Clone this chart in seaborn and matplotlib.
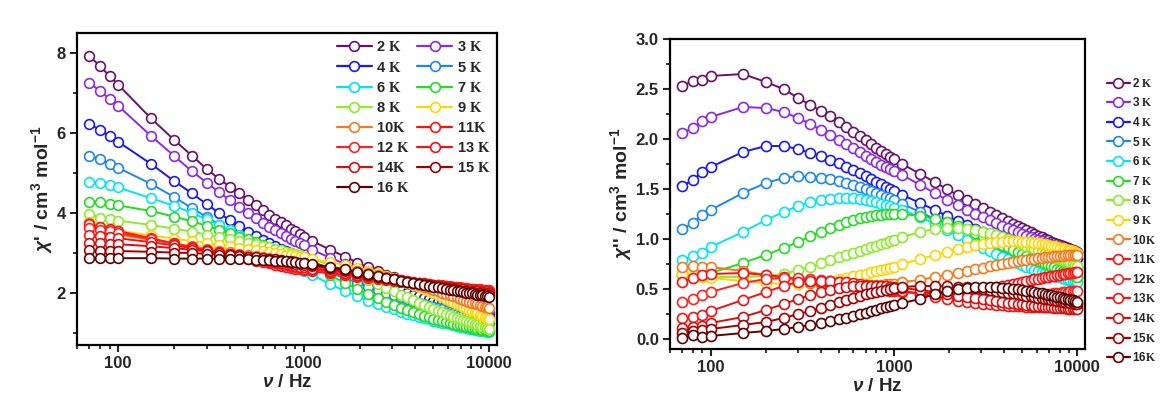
import matplotlib
matplotlib.use("Agg")
import matplotlib.pyplot as plt
from matplotlib.lines import Line2D
from matplotlib.ticker import (FixedLocator, FuncFormatter, LogLocator,
                               MultipleLocator, NullFormatter)
import pandas as pd
import seaborn as sns

# AC frequencies (Hz)
freq = [70, 80, 90, 100, 150, 200, 250, 300, 350, 400, 450, 500, 550, 600, 650, 700, 750, 800, 850, 900, 950, 1000,
        1111, 1389, 1667, 1944, 2222, 2500, 2778, 3056, 3333, 3611, 3889, 4167, 4444, 4722, 5000,
        5278, 5556, 5833, 6111, 6389, 6667, 6944, 7222, 7500, 7778, 8056, 8333, 8611, 8889, 9167, 9444, 9722, 10000]

temps = [2, 3, 4, 5, 6, 7, 8, 9, 10, 11, 12, 13, 14, 15, 16]

# in-phase susceptibility chi' (cm3 mol-1)
c1_2 = [7.92, 7.67, 7.42, 7.21, 6.37, 5.83, 5.43, 5.10, 4.85, 4.66, 4.49, 4.33, 4.19, 4.07, 3.96, 3.86, 3.77, 3.69, 3.61, 3.54, 3.47, 3.41,
        3.30, 3.08, 2.91, 2.76, 2.64, 2.54, 2.46, 2.39, 2.32, 2.26, 2.20, 2.15, 2.10, 2.05, 2.01,
        1.97, 1.93, 1.90, 1.86, 1.83, 1.80, 1.77, 1.74, 1.72, 1.69, 1.67, 1.64, 1.62, 1.60, 1.57, 1.55, 1.53, 1.51]
c1_3 = [7.26, 7.04, 6.85, 6.68, 5.93, 5.43, 5.04, 4.76, 4.52, 4.32, 4.15, 4.00, 3.87, 3.76, 3.66, 3.57, 3.49, 3.42, 3.35, 3.29, 3.24, 3.19,
        3.08, 2.88, 2.73, 2.61, 2.51, 2.43, 2.36, 2.30, 2.24, 2.18, 2.13, 2.08, 2.04, 2.00, 1.96,
        1.92, 1.89, 1.85, 1.82, 1.79, 1.76, 1.73, 1.70, 1.68, 1.65, 1.63, 1.61, 1.58, 1.56, 1.54, 1.52, 1.50, 1.48]
c1_4 = [6.23, 6.07, 5.92, 5.78, 5.23, 4.80, 4.49, 4.22, 4.00, 3.82, 3.67, 3.53, 3.42, 3.32, 3.24, 3.17, 3.10, 3.04, 2.99, 2.94, 2.90, 2.86,
        2.77, 2.62, 2.50, 2.40, 2.31, 2.24, 2.17, 2.11, 2.06, 2.01, 1.96, 1.92, 1.88, 1.84, 1.81,
        1.78, 1.75, 1.72, 1.69, 1.66, 1.64, 1.61, 1.59, 1.57, 1.55, 1.53, 1.51, 1.49, 1.47, 1.46, 1.44, 1.42, 1.41]
c1_5 = [5.43, 5.34, 5.23, 5.13, 4.73, 4.40, 4.12, 3.90, 3.71, 3.55, 3.42, 3.31, 3.22, 3.14, 3.07, 3.01, 2.95, 2.90, 2.86, 2.82, 2.78, 2.74,
        2.66, 2.50, 2.37, 2.26, 2.16, 2.08, 2.01, 1.95, 1.89, 1.84, 1.80, 1.76, 1.72, 1.68, 1.65,
        1.62, 1.59, 1.56, 1.53, 1.51, 1.48, 1.46, 1.44, 1.42, 1.40, 1.38, 1.36, 1.34, 1.33, 1.31, 1.29, 1.28, 1.26]
c1_6 = [4.78, 4.75, 4.69, 4.64, 4.37, 4.18, 4.00, 3.84, 3.70, 3.57, 3.45, 3.34, 3.24, 3.14, 3.05, 2.97, 2.89, 2.82, 2.75, 2.68, 2.62, 2.56,
        2.45, 2.22, 2.05, 1.92, 1.81, 1.72, 1.65, 1.59, 1.53, 1.48, 1.44, 1.40, 1.37, 1.34, 1.31,
        1.28, 1.26, 1.24, 1.22, 1.20, 1.18, 1.16, 1.14, 1.13, 1.11, 1.10, 1.08, 1.07, 1.06, 1.05, 1.04, 1.03, 1.02]
c1_7 = [4.28, 4.27, 4.23, 4.19, 4.05, 3.91, 3.79, 3.68, 3.58, 3.49, 3.41, 3.34, 3.27, 3.20, 3.14, 3.08, 3.03, 2.98, 2.93, 2.88, 2.84, 2.78,
        2.67, 2.44, 2.25, 2.10, 1.97, 1.87, 1.78, 1.70, 1.63, 1.57, 1.52, 1.47, 1.43, 1.39, 1.36,
        1.33, 1.30, 1.27, 1.25, 1.23, 1.21, 1.19, 1.17, 1.16, 1.14, 1.13, 1.11, 1.10, 1.09, 1.08, 1.07, 1.06, 1.05]
c1_8 = [3.98, 3.88, 3.84, 3.81, 3.70, 3.61, 3.53, 3.46, 3.40, 3.35, 3.30, 3.26, 3.22, 3.18, 3.14, 3.10, 3.07, 3.03, 3.00, 2.97, 2.94, 2.91,
        2.85, 2.70, 2.56, 2.44, 2.33, 2.22, 2.13, 2.04, 1.96, 1.89, 1.82, 1.76, 1.70, 1.65, 1.60,
        1.56, 1.52, 1.48, 1.44, 1.41, 1.38, 1.35, 1.32, 1.29, 1.27, 1.24, 1.22, 1.20, 1.18, 1.16, 1.14, 1.12, 1.10]
c1_9 = [3.78, 3.66, 3.60, 3.56, 3.44, 3.36, 3.30, 3.25, 3.20, 3.17, 3.13, 3.10, 3.07, 3.05, 3.03, 3.00, 2.98, 2.96, 2.94, 2.92, 2.91, 2.89,
        2.85, 2.77, 2.70, 2.63, 2.56, 2.49, 2.43, 2.37, 2.31, 2.25, 2.19, 2.14, 2.09, 2.04, 1.99,
        1.94, 1.90, 1.85, 1.81, 1.77, 1.73, 1.69, 1.65, 1.62, 1.58, 1.55, 1.52, 1.49, 1.46, 1.43, 1.40, 1.37, 1.34]
c1_10 = [3.76, 3.62, 3.52, 3.46, 3.33, 3.24, 3.17, 3.11, 3.06, 3.02, 2.98, 2.95, 2.92, 2.89, 2.87, 2.85, 2.83, 2.81, 2.79, 2.77, 2.76, 2.74,
         2.71, 2.65, 2.59, 2.54, 2.49, 2.44, 2.40, 2.35, 2.31, 2.27, 2.23, 2.19, 2.15, 2.12, 2.08,
         2.05, 2.01, 1.98, 1.95, 1.92, 1.89, 1.86, 1.83, 1.81, 1.78, 1.76, 1.74, 1.72, 1.70, 1.68, 1.66, 1.64, 1.63]
c1_11 = [3.72, 3.66, 3.60, 3.55, 3.37, 3.24, 3.14, 3.06, 3.00, 2.95, 2.90, 2.85, 2.81, 2.78, 2.74, 2.71, 2.68, 2.66, 2.63, 2.61, 2.59, 2.57,
         2.54, 2.49, 2.45, 2.41, 2.38, 2.35, 2.33, 2.31, 2.29, 2.27, 2.25, 2.24, 2.22, 2.21, 2.20,
         2.19, 2.18, 2.17, 2.16, 2.15, 2.14, 2.13, 2.13, 2.12, 2.11, 2.10, 2.10, 2.09, 2.09, 2.08, 2.08, 2.07, 2.07]
c1_12 = [3.62, 3.58, 3.54, 3.50, 3.35, 3.23, 3.14, 3.07, 3.01, 2.96, 2.92, 2.88, 2.84, 2.81, 2.78, 2.75, 2.72, 2.69, 2.67, 2.65, 2.63, 2.61,
         2.58, 2.52, 2.47, 2.43, 2.40, 2.37, 2.35, 2.33, 2.31, 2.29, 2.27, 2.25, 2.24, 2.22, 2.21,
         2.20, 2.19, 2.18, 2.17, 2.16, 2.15, 2.14, 2.13, 2.12, 2.11, 2.10, 2.09, 2.08, 2.08, 2.07, 2.06, 2.06, 2.05]
c1_13 = [3.45, 3.42, 3.40, 3.37, 3.27, 3.19, 3.12, 3.07, 3.02, 2.98, 2.94, 2.90, 2.87, 2.84, 2.81, 2.78, 2.75, 2.72, 2.70, 2.68, 2.66, 2.64,
         2.61, 2.56, 2.51, 2.46, 2.42, 2.39, 2.36, 2.34, 2.32, 2.30, 2.28, 2.26, 2.24, 2.22, 2.20,
         2.19, 2.17, 2.16, 2.15, 2.14, 2.13, 2.12, 2.11, 2.10, 2.09, 2.08, 2.07, 2.06, 2.06, 2.05, 2.04, 2.04, 2.03]
c1_14 = [3.26, 3.25, 3.23, 3.22, 3.17, 3.12, 3.08, 3.04, 3.00, 2.97, 2.94, 2.91, 2.88, 2.86, 2.83, 2.81, 2.79, 2.77, 2.75, 2.73, 2.72, 2.70,
         2.67, 2.60, 2.54, 2.49, 2.44, 2.40, 2.37, 2.34, 2.31, 2.28, 2.26, 2.24, 2.22, 2.20, 2.19,
         2.17, 2.16, 2.14, 2.13, 2.12, 2.11, 2.10, 2.09, 2.08, 2.07, 2.06, 2.05, 2.04, 2.03, 2.02, 2.01, 2.01, 2.00]
c1_15 = [3.07, 3.06, 3.06, 3.05, 3.03, 3.01, 3.00, 2.98, 2.96, 2.94, 2.93, 2.91, 2.89, 2.88, 2.86, 2.85, 2.83, 2.81, 2.79, 2.78, 2.76, 2.74,
         2.71, 2.63, 2.57, 2.51, 2.46, 2.41, 2.37, 2.34, 2.31, 2.28, 2.25, 2.23, 2.21, 2.19, 2.17,
         2.15, 2.13, 2.12, 2.10, 2.09, 2.07, 2.06, 2.05, 2.04, 2.03, 2.02, 2.01, 2.00, 1.99, 1.98, 1.97, 1.97, 1.96]
c1_16 = [2.87, 2.87, 2.87, 2.87, 2.87, 2.86, 2.86, 2.86, 2.85, 2.85, 2.84, 2.84, 2.83, 2.83, 2.82, 2.81, 2.80, 2.79, 2.78, 2.77, 2.76, 2.75,
         2.72, 2.65, 2.59, 2.53, 2.48, 2.43, 2.38, 2.34, 2.31, 2.28, 2.25, 2.22, 2.20, 2.18, 2.16,
         2.14, 2.12, 2.10, 2.08, 2.07, 2.05, 2.04, 2.02, 2.01, 2.00, 1.99, 1.98, 1.96, 1.95, 1.94, 1.93, 1.92, 1.91]

# out-of-phase susceptibility chi'' (cm3 mol-1)
c2_2 = [2.53, 2.58, 2.59, 2.63, 2.65, 2.57, 2.50, 2.41, 2.34, 2.28, 2.23, 2.17, 2.12, 2.07, 2.03, 1.99, 1.95, 1.91, 1.88, 1.85, 1.82, 1.80,
        1.75, 1.65, 1.57, 1.50, 1.44, 1.39, 1.35, 1.31, 1.27, 1.24, 1.21, 1.18, 1.15, 1.13, 1.11,
        1.09, 1.07, 1.05, 1.03, 1.02, 1.00, 0.99, 0.97, 0.96, 0.95, 0.94, 0.93, 0.92, 0.91, 0.90, 0.89, 0.88, 0.87]
c2_3 = [2.06, 2.11, 2.18, 2.22, 2.32, 2.31, 2.27, 2.21, 2.15, 2.09, 2.04, 1.99, 1.95, 1.91, 1.87, 1.83, 1.80, 1.77, 1.74, 1.72, 1.70, 1.68,
        1.64, 1.54, 1.46, 1.39, 1.34, 1.29, 1.25, 1.22, 1.19, 1.16, 1.13, 1.11, 1.09, 1.07, 1.05,
        1.03, 1.02, 1.00, 0.99, 0.98, 0.96, 0.95, 0.94, 0.93, 0.92, 0.92, 0.91, 0.90, 0.89, 0.88, 0.88, 0.87, 0.86]
c2_4 = [1.53, 1.59, 1.67, 1.72, 1.87, 1.93, 1.93, 1.90, 1.86, 1.83, 1.79, 1.76, 1.72, 1.69, 1.66, 1.63, 1.60, 1.57, 1.55, 1.52, 1.50, 1.48,
        1.44, 1.36, 1.29, 1.23, 1.18, 1.14, 1.10, 1.07, 1.04, 1.02, 1.00, 0.98, 0.96, 0.95, 0.93,
        0.92, 0.91, 0.90, 0.89, 0.88, 0.87, 0.87, 0.86, 0.85, 0.85, 0.84, 0.84, 0.83, 0.83, 0.82, 0.82, 0.81, 0.81]
c2_5 = [1.10, 1.16, 1.24, 1.29, 1.46, 1.56, 1.61, 1.63, 1.62, 1.61, 1.60, 1.58, 1.56, 1.54, 1.52, 1.50, 1.48, 1.46, 1.44, 1.42, 1.41, 1.39,
        1.35, 1.27, 1.20, 1.15, 1.10, 1.06, 1.03, 1.00, 0.97, 0.95, 0.93, 0.91, 0.89, 0.87, 0.86,
        0.84, 0.83, 0.82, 0.81, 0.80, 0.79, 0.78, 0.77, 0.77, 0.76, 0.75, 0.75, 0.74, 0.74, 0.73, 0.73, 0.72, 0.72]
c2_6 = [0.79, 0.83, 0.86, 0.92, 1.07, 1.19, 1.27, 1.33, 1.37, 1.39, 1.40, 1.41, 1.41, 1.41, 1.40, 1.39, 1.38, 1.37, 1.35, 1.34, 1.33, 1.31,
        1.29, 1.22, 1.15, 1.09, 1.04, 0.99, 0.95, 0.91, 0.88, 0.85, 0.82, 0.80, 0.78, 0.76, 0.74,
        0.72, 0.71, 0.69, 0.68, 0.67, 0.66, 0.65, 0.64, 0.63, 0.62, 0.62, 0.61, 0.60, 0.59, 0.59, 0.58, 0.58, 0.57]
c2_7 = [0.64, 0.63, 0.64, 0.66, 0.76, 0.84, 0.91, 0.97, 1.03, 1.07, 1.11, 1.14, 1.17, 1.19, 1.21, 1.22, 1.23, 1.24, 1.24, 1.25, 1.25, 1.25,
        1.25, 1.23, 1.20, 1.17, 1.13, 1.10, 1.06, 1.03, 1.00, 0.97, 0.94, 0.92, 0.89, 0.87, 0.85,
        0.83, 0.81, 0.80, 0.78, 0.77, 0.75, 0.74, 0.73, 0.72, 0.70, 0.69, 0.68, 0.67, 0.66, 0.65, 0.64, 0.63, 0.62]
c2_8 = [0.66, 0.63, 0.62, 0.62, 0.62, 0.63, 0.65, 0.69, 0.72, 0.76, 0.79, 0.82, 0.84, 0.86, 0.88, 0.90, 0.92, 0.93, 0.95, 0.96, 0.98, 0.99,
        1.02, 1.07, 1.10, 1.11, 1.11, 1.10, 1.09, 1.07, 1.06, 1.04, 1.02, 1.00, 0.98, 0.97, 0.95,
        0.93, 0.92, 0.90, 0.89, 0.87, 0.86, 0.85, 0.83, 0.82, 0.81, 0.80, 0.79, 0.78, 0.77, 0.76, 0.75, 0.74, 0.73]
c2_9 = [0.65, 0.64, 0.62, 0.61, 0.58, 0.56, 0.55, 0.55, 0.56, 0.57, 0.58, 0.60, 0.61, 0.63, 0.64, 0.65, 0.67, 0.68, 0.69, 0.70, 0.71, 0.72,
        0.75, 0.80, 0.84, 0.87, 0.90, 0.92, 0.94, 0.95, 0.96, 0.97, 0.97, 0.98, 0.98, 0.98, 0.97,
        0.97, 0.97, 0.96, 0.96, 0.95, 0.95, 0.94, 0.93, 0.93, 0.92, 0.91, 0.91, 0.90, 0.89, 0.89, 0.88, 0.87, 0.86]
c2_10 = [0.72, 0.73, 0.72, 0.72, 0.68, 0.64, 0.61, 0.58, 0.56, 0.55, 0.54, 0.53, 0.53, 0.53, 0.53, 0.53, 0.54, 0.54, 0.54, 0.55, 0.55, 0.55,
         0.57, 0.59, 0.62, 0.64, 0.66, 0.68, 0.70, 0.71, 0.73, 0.74, 0.75, 0.76, 0.77, 0.78, 0.79,
         0.79, 0.80, 0.80, 0.81, 0.81, 0.82, 0.82, 0.82, 0.83, 0.83, 0.83, 0.83, 0.84, 0.84, 0.84, 0.84, 0.84, 0.84]
c2_11 = [0.57, 0.61, 0.64, 0.65, 0.66, 0.64, 0.62, 0.60, 0.58, 0.57, 0.56, 0.55, 0.54, 0.53, 0.52, 0.51, 0.51, 0.50, 0.49, 0.49, 0.48, 0.48,
         0.47, 0.46, 0.46, 0.46, 0.47, 0.48, 0.49, 0.50, 0.51, 0.52, 0.53, 0.54, 0.55, 0.56, 0.57,
         0.58, 0.59, 0.60, 0.60, 0.61, 0.62, 0.62, 0.63, 0.63, 0.64, 0.64, 0.65, 0.65, 0.66, 0.66, 0.66, 0.67, 0.67]
c2_12 = [0.37, 0.40, 0.44, 0.47, 0.56, 0.60, 0.61, 0.61, 0.60, 0.59, 0.58, 0.57, 0.56, 0.55, 0.54, 0.53, 0.52, 0.52, 0.51, 0.50, 0.50, 0.49,
         0.48, 0.45, 0.43, 0.41, 0.40, 0.40, 0.39, 0.39, 0.39, 0.39, 0.39, 0.40, 0.40, 0.41, 0.41,
         0.42, 0.42, 0.43, 0.43, 0.44, 0.44, 0.45, 0.45, 0.46, 0.46, 0.46, 0.47, 0.47, 0.47, 0.48, 0.48, 0.48, 0.48]
c2_13 = [0.21, 0.22, 0.24, 0.28, 0.39, 0.47, 0.53, 0.57, 0.58, 0.58, 0.58, 0.57, 0.57, 0.56, 0.55, 0.54, 0.53, 0.53, 0.52, 0.51, 0.50, 0.50,
         0.48, 0.45, 0.42, 0.40, 0.38, 0.37, 0.36, 0.35, 0.35, 0.34, 0.34, 0.33, 0.33, 0.33, 0.33,
         0.32, 0.32, 0.32, 0.32, 0.32, 0.32, 0.32, 0.32, 0.32, 0.32, 0.32, 0.32, 0.32, 0.32, 0.32, 0.32, 0.32, 0.32]
c2_14 = [0.11, 0.12, 0.13, 0.16, 0.22, 0.29, 0.35, 0.40, 0.44, 0.47, 0.49, 0.51, 0.52, 0.53, 0.53, 0.53, 0.53, 0.53, 0.53, 0.53, 0.52, 0.52,
         0.51, 0.49, 0.47, 0.45, 0.43, 0.42, 0.41, 0.40, 0.39, 0.38, 0.37, 0.36, 0.36, 0.35, 0.35,
         0.34, 0.34, 0.33, 0.33, 0.33, 0.32, 0.32, 0.32, 0.31, 0.31, 0.31, 0.31, 0.31, 0.30, 0.30, 0.30, 0.30, 0.30]
c2_15 = [0.06, 0.08, 0.09, 0.10, 0.14, 0.17, 0.21, 0.25, 0.28, 0.31, 0.34, 0.37, 0.39, 0.41, 0.43, 0.45, 0.46, 0.47, 0.48, 0.49, 0.50, 0.51,
         0.52, 0.53, 0.53, 0.53, 0.52, 0.52, 0.51, 0.50, 0.49, 0.48, 0.47, 0.46, 0.46, 0.45, 0.44,
         0.43, 0.43, 0.42, 0.41, 0.41, 0.40, 0.40, 0.39, 0.39, 0.38, 0.38, 0.37, 0.37, 0.37, 0.36, 0.36, 0.35, 0.35]
c2_16 = [0.01, 0.04, 0.02, 0.03, 0.06, 0.08, 0.10, 0.12, 0.14, 0.16, 0.18, 0.20, 0.21, 0.23, 0.25, 0.26, 0.28, 0.29, 0.31, 0.32, 0.33, 0.34,
         0.36, 0.40, 0.45, 0.48, 0.50, 0.51, 0.52, 0.52, 0.52, 0.52, 0.51, 0.51, 0.50, 0.50, 0.49,
         0.48, 0.48, 0.47, 0.46, 0.46, 0.45, 0.44, 0.44, 0.43, 0.42, 0.42, 0.41, 0.40, 0.40, 0.39, 0.39, 0.38, 0.37]

colors = ["#6a0f6e", "#8a2be2", "#1a1aee", "#1e88e8", "#00e6ee", "#22dd22", "#8cec2a", "#ffd500",
          "#f47a1e", "#ff1010", "#ff2222", "#f01414", "#d41010", "#a00000", "#5c0000"]

chi_re = [c1_2, c1_3, c1_4, c1_5, c1_6, c1_7, c1_8, c1_9, c1_10, c1_11, c1_12, c1_13, c1_14, c1_15, c1_16]
chi_im = [c2_2, c2_3, c2_4, c2_5, c2_6, c2_7, c2_8, c2_9, c2_10, c2_11, c2_12, c2_13, c2_14, c2_15, c2_16]

frames = []
for T, re_vals, im_vals in zip(temps, chi_re, chi_im):
    assert len(re_vals) == len(freq) and len(im_vals) == len(freq)
    frames.append(pd.DataFrame({"freq": freq, "T": T, "chi_re": re_vals, "chi_im": im_vals}))
df = pd.concat(frames, ignore_index=True)

sns.set_style("ticks")
plt.rcParams.update({
    "font.family": ["Liberation Sans", "DejaVu Sans"],
    "font.weight": "bold",
    "mathtext.fontset": "custom",
    "mathtext.rm": "Liberation Sans:bold",
    "mathtext.it": "Liberation Sans:italic:bold",
    "mathtext.bf": "Liberation Serif:bold",
    "axes.linewidth": 1.6,
    "axes.edgecolor": "black",
})

fig = plt.figure(figsize=(11.7, 4.0), dpi=100)
ax1 = fig.add_axes([0.0658, 0.1375, 0.359, 0.78])
ax2 = fig.add_axes([0.5726, 0.1275, 0.3547, 0.775])

line_kw = dict(lw=1.4, marker="o", mfc="white", mew=1.2, sort=False,
               errorbar=None, legend=False)

for T, col in zip(temps, colors):
    sub = df[df["T"] == T]
    sns.lineplot(data=sub, x="freq", y="chi_re", ax=ax1, color=col, mec=col, ms=7, **line_kw)
    sns.lineplot(data=sub, x="freq", y="chi_im", ax=ax2, color=col, mec=col, ms=7.2, **line_kw)

decade_fmt = FuncFormatter(lambda v, p: f"{int(round(v))}")
for ax in (ax1, ax2):
    ax.set_xscale("log")
    ax.set_xlim(60, 11000)
    ax.xaxis.set_major_locator(FixedLocator([100, 1000, 10000]))
    ax.xaxis.set_major_formatter(decade_fmt)
    ax.xaxis.set_minor_locator(LogLocator(base=10, subs=range(2, 10), numticks=20))
    ax.xaxis.set_minor_formatter(NullFormatter())
    ax.tick_params(which="major", direction="out", length=5, width=1.5,
                   labelsize=12, pad=3, top=False, right=False)
    ax.tick_params(which="minor", direction="out", length=3, width=1.3,
                   top=False, right=False)
    for s in ax.spines.values():
        s.set_visible(True)
        s.set_linewidth(1.6)
    ax.set_xlabel(r"$\nu$ / Hz", fontsize=13.5, fontweight="bold", labelpad=2)

ax1.set_ylim(0.7, 8.5)
ax1.yaxis.set_major_locator(FixedLocator([2, 4, 6, 8]))
ax1.yaxis.set_minor_locator(MultipleLocator(1))
ax1.set_ylabel(r"$\chi$' / cm$^{3}$ mol$^{-1}$", fontsize=14, fontweight="bold", labelpad=1)

ax2.set_ylim(-0.1, 3.0)
ax2.yaxis.set_major_locator(MultipleLocator(0.5))
ax2.yaxis.set_minor_locator(MultipleLocator(0.25))
ax2.yaxis.set_major_formatter(FuncFormatter(lambda v, p: f"{v:.1f}"))
ax2.set_ylabel(r"$\chi$'' / cm$^{3}$ mol$^{-1}$", fontsize=14, fontweight="bold", labelpad=1)


def handle(col):
    return Line2D([], [], color=col, lw=1.6, marker="o", ms=7, mfc="white", mec=col, mew=1.2)


def k_label(T, spaced=True):
    return f"{T} " + r"$\mathbf{K}$" if spaced else f"{T}" + r"$\mathbf{K}$"


# two-column legend inside the chi' panel, filled row by row
order = list(range(0, 15, 2)) + list(range(1, 15, 2))
left_nospace = {10, 11, 14}
ax1.legend([handle(colors[i]) for i in order],
           [k_label(temps[i], temps[i] not in left_nospace) for i in order],
           ncol=2, loc="upper left", bbox_to_anchor=(0.605, 0.995), borderaxespad=0,
           frameon=False, fontsize=10.5, handlelength=2.4, handletextpad=0.3,
           columnspacing=0.5, labelspacing=0.42, numpoints=1)

# single-column legend beside the chi'' panel
fig.legend([handle(c) for c in colors],
           [k_label(T, T < 10) for T in temps],
           loc="upper left", bbox_to_anchor=(0.9423, 0.82), borderaxespad=0,
           frameon=False, fontsize=8.5, handlelength=1.9, handletextpad=0.2,
           labelspacing=0.56, numpoints=1)

fig.savefig("out.png", dpi=100, facecolor="white")
